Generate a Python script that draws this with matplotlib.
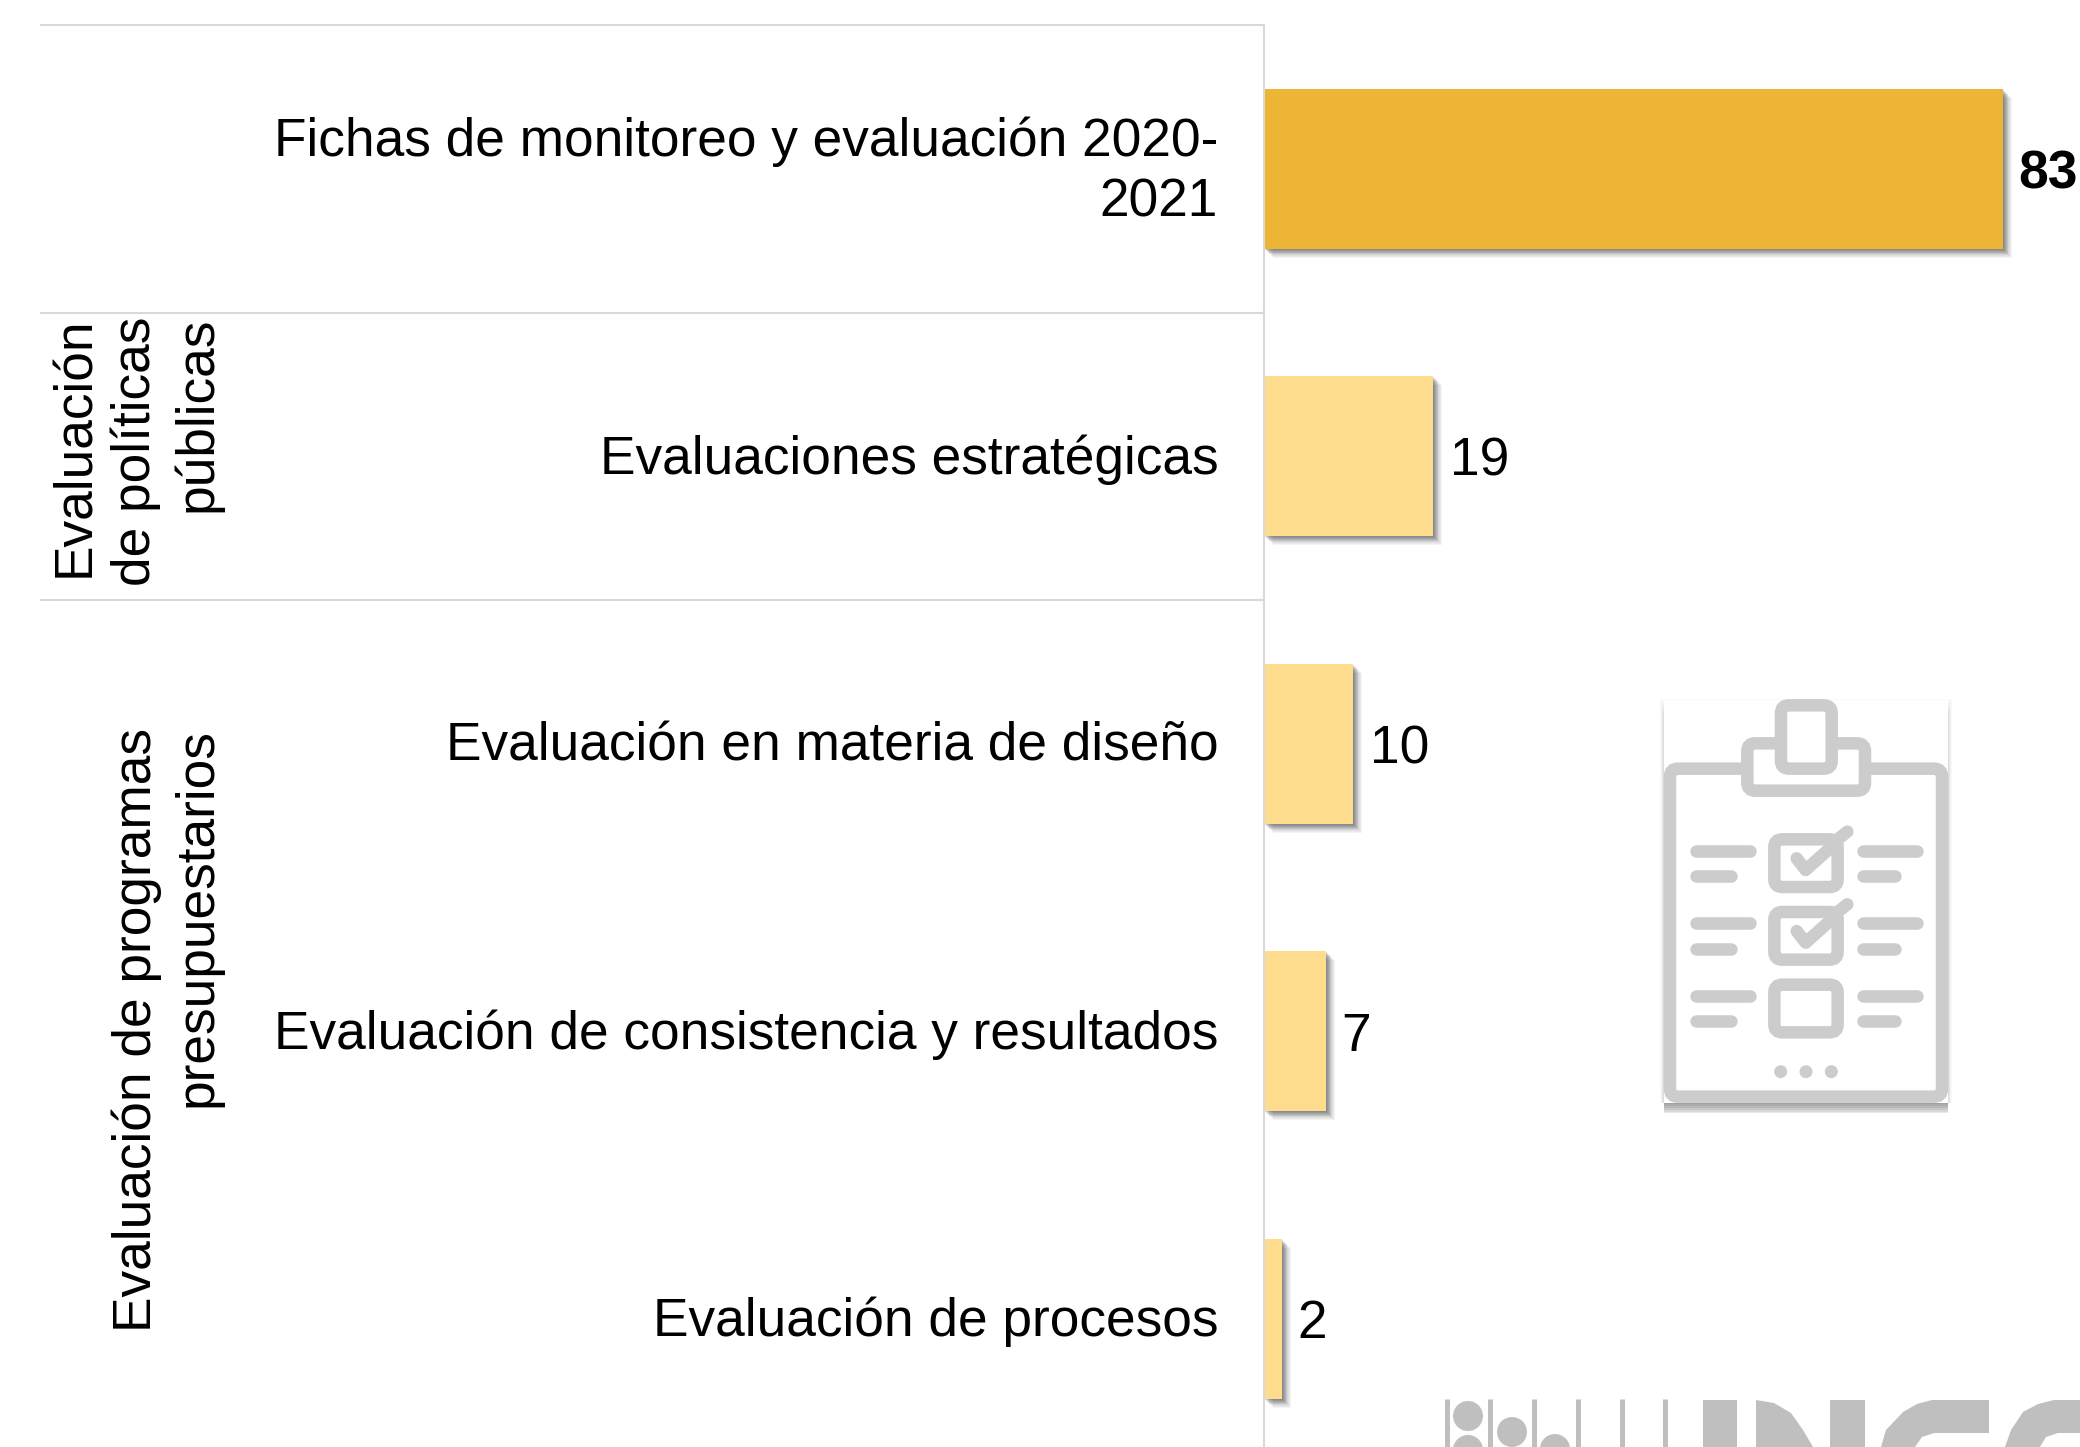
import matplotlib
matplotlib.use('Agg')
import matplotlib.pyplot as plt
import matplotlib.patheffects as pe
from matplotlib.patches import FancyBboxPatch, Rectangle, Ellipse, Polygon
from matplotlib.transforms import ScaledTranslation

plt.rcParams['font.family'] = ['Liberation Sans', 'DejaVu Sans']

# data
categorias = ['Fichas de monitoreo y evaluación 2020-\n2021', 'Evaluaciones estratégicas',
              'Evaluación en materia de diseño', 'Evaluación de consistencia y resultados',
              'Evaluación de procesos']
valores = [83, 19, 10, 7, 2]
colores = ['#ECB535', '#FEDC8E', '#FEDC8E', '#FEDC8E', '#FEDC8E']
negrita = ['bold', 'normal', 'normal', 'normal', 'normal']
grupos = ['Evaluación\nde políticas\npúblicas', 'Evaluación de programas\npresupuestarios']

W, H = 2080, 1447
GRIS = '#CCCCCC'
FS = 38.3
fig = plt.figure(figsize=(W/100, H/100), dpi=100, facecolor='w')

# capa en pixeles para lo que no es dato (grupos, icono, logo)
px = fig.add_axes([0, 0, 1, 1])
px.set_xlim(0, W)
px.set_ylim(H, 0)
px.axis('off')

x0 = 1264
ax = fig.add_axes([x0/W, 0, (W-x0)/W, (H-25)/H])
ax.patch.set_alpha(0)
ax.set_xlim(0, (W-x0)/8.9)
ax.set_ylim(4.446, -0.5)
for s in ['top', 'right', 'bottom']:
    ax.spines[s].set_visible(False)
ax.spines['left'].set_color('#D9D9D9')
ax.spines['left'].set_linewidth(1.5)
ax.set_xticks([])
ax.set_yticks(range(5))
ax.set_yticklabels(categorias, fontsize=FS, linespacing=1.27)
ax.tick_params(axis='y', length=0, pad=33)
for i, lbl in enumerate(ax.get_yticklabels()):
    sube = 7.5 if i == 0 else 2.5
    lbl.set_transform(lbl.get_transform() + ScaledTranslation(0, sube/100, fig.dpi_scale_trans))

sombra = [pe.SimplePatchShadow(offset=(i*0.72, -i*0.72), shadow_rgbFace='#444444', alpha=0.13 if i < 6 else 0.06)
          for i in range(1, 10)]
barras = ax.barh(range(5), valores, height=0.556, color=colores, linewidth=0)
for b in barras:
    b.set_path_effects(sombra + [pe.Normal()])
for i, v in enumerate(valores):
    ax.annotate(str(v), (v, i), xytext=(11 if v < 10 or v > 50 else 12, -4), textcoords='offset points', va='center', ha='left',
                fontsize=FS, fontweight=negrita[i], clip_on=False)

# separadores
for y in [25, 313, 600]:
    px.plot([40, x0], [y, y], color='#D9D9D9', lw=1.5, solid_capstyle='butt')

# etiquetas de grupo
px.text(136, 451, grupos[0], rotation=90, fontsize=FS, ha='center', va='center', multialignment='right', linespacing=1.27)
px.text(167, 1030, grupos[1], rotation=90, fontsize=FS, ha='center', va='center', multialignment='right', linespacing=1.27)


# icono: coordenadas del recorte x3
def ix(v):
    return 1600 + v/3


def iy(v):
    return 680 + v/3


LW = 9


def caja(x1, y1, x2, y2, r=8, fc='white', z=5):
    px.add_patch(FancyBboxPatch((ix(x1)+r, iy(y1)+r), (x2-x1)/3-2*r, (y2-y1)/3-2*r,
                                boxstyle='round,pad=%d,rounding_size=%d' % (r, r),
                                fc=fc, ec=GRIS, lw=LW, zorder=z))


def raya(xs, ys, lw=LW, z=6):
    px.plot([ix(a) for a in xs], [iy(b) for b in ys], color=GRIS, lw=lw, solid_capstyle='round',
            solid_joinstyle='round', zorder=z)


# sombra del icono, mas fuerte abajo
for k in range(1, 7):
    px.add_patch(Rectangle((ix(192), iy(1268)-2), 852/3, 2+k*1.8, fc='#555555', ec='none', alpha=0.12, zorder=3))
    px.add_patch(Rectangle((ix(192)-k*0.6, iy(110)-k*3), 852/3+k*1.2, 1158/3+k*3, fc='#555555', ec='none',
                           alpha=0.035, zorder=3))
px.add_patch(Rectangle((ix(192), iy(60)), 852/3, 1208/3, fc='white', ec='none', zorder=4))
caja(210, 266, 1026, 1250)
caja(442, 190, 795, 332, z=6)
caja(543, 76, 695, 266, z=7)
for dy in [0, 218, 436]:
    caja(523, 478+dy, 713, 621+dy, z=6)
    raya([287, 449], [512+dy, 512+dy])
    raya([287, 392], [588+dy, 588+dy])
    raya([789, 950], [512+dy, 512+dy])
    raya([789, 884], [588+dy, 588+dy])
for dy in [0, 218]:
    raya([590, 617, 695], [535+dy, 570+dy, 500+dy])
    raya([713, 742], [478+dy, 455+dy])
for xc in [542, 618, 694]:
    px.add_patch(Ellipse((ix(xc), iy(1175)), 13, 13, fc=GRIS, ec='none', zorder=6))

# logo cortado abajo
LOGO = '#BFBFBF'
for x in [1447, 1490, 1534, 1578, 1622, 1665]:
    px.plot([x, x], [1399, H], color=LOGO, lw=3.6, solid_capstyle='butt')
for xc, yc in [(1468, 1416), (1468, 1450), (1512, 1432), (1555, 1449)]:
    px.add_patch(Ellipse((xc, yc), 30, 30, fc=LOGO, ec='none'))
px.add_patch(Rectangle((1703, 1400), 34, 60, fc=LOGO, ec='none'))
px.add_patch(Rectangle((1830, 1400), 35, 60, fc=LOGO, ec='none'))
px.add_patch(Polygon([(1756, 1400), (1774, 1403), (1791, 1413), (1803, 1430), (1813, 1447), (1756, 1447)], fc=LOGO, ec='none'))
px.add_patch(Polygon([(1881, 1447), (1886, 1430), (1903, 1412), (1917, 1404), (1932, 1400), (1989, 1400), (1989, 1433),
                      (1934, 1433), (1922, 1437), (1915, 1447)], fc=LOGO, ec='none'))
px.add_patch(Polygon([(2005, 1447), (2011, 1430), (2023, 1412), (2038, 1404), (2054, 1400), (W, 1400), (W, 1433),
                      (2058, 1433), (2046, 1437), (2040, 1447)], fc=LOGO, ec='none'))

fig.savefig('out.png', dpi=100)
